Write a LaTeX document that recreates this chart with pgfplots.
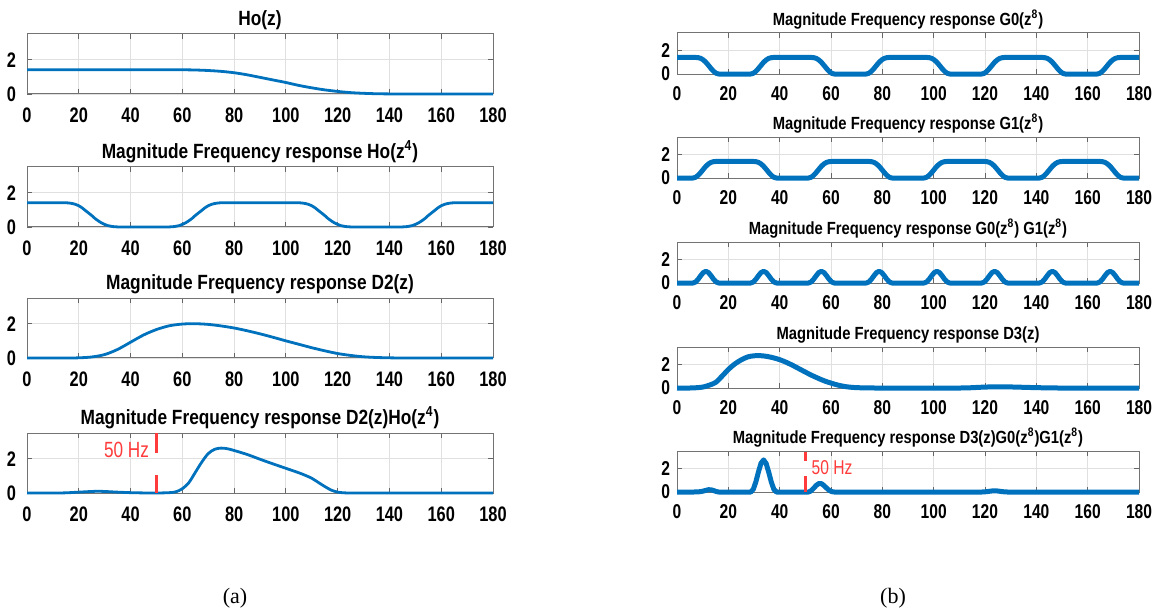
\documentclass[border=0pt]{standalone}
\usepackage{fontspec}
\setmainfont{Liberation Sans}[FakeStretch=0.85]
\newfontfamily\tickfont{Liberation Sans}[FakeStretch=0.78]
\newfontfamily\titlefont{Liberation Sans}[FakeStretch=0.84]
\newfontfamily\capfont{Liberation Serif}
\usepackage{pgfplots}
\pgfplotsset{compat=1.18}

\definecolor{mblue}{rgb}{0,0.447,0.741}
\definecolor{mred}{HTML}{FF3B3B}

\pgfplotsset{
  resp/.style={
    scale only axis, anchor=north west, clip=false,
    xmin=0, xmax=180, ymin=0, ymax=3.5,
    xtick={0,20,...,180}, ytick={0,2},
    grid=major, major grid style={black!12, line width=0.4pt},
    axis line style={black!55, line width=0.5pt},
    tick align=inside, major tick length=2.5pt,
    tick style={black!60, line width=0.4pt},
    /pgf/number format/assume math mode=true,
  },
  leftax/.style={resp, width=233pt, height=30pt,
    ticklabel style={font=\tickfont\bfseries\fontsize{10.5}{11}\selectfont},
    xticklabel style={yshift=-3.5pt}, yticklabel style={xshift=-2pt},
    every axis title/.style={at={(0.5,1)}, anchor=south, inner sep=1.5pt, yshift=0.5pt,
      font=\titlefont\bfseries\fontsize{10.3}{11}\selectfont}},
  rightax/.style={resp, width=231pt, height=20.5pt,
    ticklabel style={font=\tickfont\bfseries\fontsize{10}{11}\selectfont},
    xticklabel style={yshift=-2.5pt},
    every axis title/.style={at={(0.5,1)}, anchor=south, inner sep=1.5pt, yshift=0pt,
      font=\titlefont\bfseries\fontsize{8.8}{9.5}\selectfont}},
  thinline/.style={mblue, line width=1.4pt, smooth, line join=round},
  thickline/.style={mblue, line width=2.5pt, line join=round},
}

\begin{document}
\begin{tikzpicture}
\path[use as bounding box] (0,0) rectangle (583pt,-305pt);

% ---------------- column (a) ----------------
\begin{axis}[leftax, at={(13.5pt,-17pt)}, title={Ho(z)}]
\addplot[thinline] coordinates {(0,1.414)(50,1.414)(55,1.414)(60,1.413)(65,1.40)(70,1.37)(75,1.32)(80,1.24)(85,1.12)(90,0.97)(95,0.82)(100,0.67)(105,0.50)(110,0.36)(115,0.24)(120,0.15)(125,0.08)(130,0.04)(135,0.015)(140,0.005)(145,0)(150,0)(180,0)};
\end{axis}

\begin{axis}[leftax, at={(13.5pt,-83.5pt)}, title={Magnitude Frequency response Ho(z\textsuperscript{4})}]
\addplot[mblue, line width=1.4pt, line join=round] coordinates {
(0,1.414)(15,1.414)(16.25,1.40)(17.5,1.37)(18.75,1.32)(20,1.24)(21.25,1.12)(22.5,0.97)(23.75,0.82)(25,0.67)(26.25,0.50)(27.5,0.36)(28.75,0.24)(30,0.15)(31.25,0.08)(32.5,0.04)(33.75,0.015)(35,0.005)(36.25,0)
(53.75,0)(55,0.005)(56.25,0.015)(57.5,0.04)(58.75,0.08)(60,0.15)(61.25,0.24)(62.5,0.36)(63.75,0.50)(65,0.67)(66.25,0.82)(67.5,0.97)(68.75,1.12)(70,1.24)(71.25,1.32)(72.5,1.37)(73.75,1.40)(75,1.414)
(105,1.414)(106.25,1.40)(107.5,1.37)(108.75,1.32)(110,1.24)(111.25,1.12)(112.5,0.97)(113.75,0.82)(115,0.67)(116.25,0.50)(117.5,0.36)(118.75,0.24)(120,0.15)(121.25,0.08)(122.5,0.04)(123.75,0.015)(125,0.005)(126.25,0)
(143.75,0)(145,0.005)(146.25,0.015)(147.5,0.04)(148.75,0.08)(150,0.15)(151.25,0.24)(152.5,0.36)(153.75,0.50)(155,0.67)(156.25,0.82)(157.5,0.97)(158.75,1.12)(160,1.24)(161.25,1.32)(162.5,1.37)(163.75,1.40)(165,1.414)(180,1.414)};
\end{axis}

\begin{axis}[leftax, at={(13.5pt,-149pt)}, title={Magnitude Frequency response D2(z)}]
\addplot[thinline] coordinates {(0,0)(10,0)(15,0)(20,0.01)(25,0.06)(30,0.2)(35,0.5)(40,0.92)(45,1.34)(50,1.66)(55,1.88)(60,1.98)(65,2.0)(70,1.96)(75,1.87)(80,1.75)(85,1.59)(90,1.41)(95,1.21)(100,1.0)(105,0.8)(110,0.6)(115,0.42)(120,0.26)(125,0.15)(130,0.07)(135,0.03)(140,0.01)(145,0)(150,0)(180,0)};
\end{axis}

\begin{axis}[leftax, at={(13.5pt,-216.5pt)}, title={Magnitude Frequency response D2(z)Ho(z\textsuperscript{4})}]
\addplot[thinline] coordinates {(0,0)(10,0)(15,0.01)(20,0.05)(25,0.09)(27.5,0.1)(30,0.09)(35,0.05)(40,0.02)(45,0.005)(50,0)(55,0.02)(57.5,0.07)(60,0.25)(62.5,0.6)(65,1.2)(67.5,1.8)(70,2.3)(72.5,2.55)(75,2.62)(77.5,2.58)(80,2.48)(85,2.25)(90,1.97)(95,1.7)(100,1.44)(105,1.18)(107.5,1.03)(110,0.86)(112.5,0.62)(115,0.38)(117.5,0.17)(120,0.05)(122.5,0.01)(125,0)(130,0)(180,0)};
\addplot[mred, line width=1.7pt] coordinates {(50,0)(50,1.05)};
\addplot[mred, line width=1.7pt] coordinates {(50,2.32)(50,3.5)};
\node[mred, anchor=east, inner sep=1pt, font=\tickfont\fontsize{11}{12}\selectfont] at (axis cs:48,2.5) {50 Hz};
\end{axis}

% ---------------- column (b) ----------------
\begin{axis}[rightax, at={(338.5pt,-16.5pt)}, title={Magnitude Frequency response G0(z\textsuperscript{8})}]
\addplot[thickline] coordinates {
(0,1.414)
(6.25,1.414)(7.25,1.413)(8.25,1.395)(9.25,1.334)(10.25,1.203)(11.25,1.0)(12.25,0.743)(13.25,0.471)(14.25,0.231)(15.25,0.062)(16.25,0)
(28.75,0)(29.75,0.062)(30.75,0.231)(31.75,0.471)(32.75,0.743)(33.75,1.0)(34.75,1.203)(35.75,1.334)(36.75,1.395)(37.75,1.413)(38.75,1.414)
(51.25,1.414)(52.25,1.413)(53.25,1.395)(54.25,1.334)(55.25,1.203)(56.25,1.0)(57.25,0.743)(58.25,0.471)(59.25,0.231)(60.25,0.062)(61.25,0)
(73.75,0)(74.75,0.062)(75.75,0.231)(76.75,0.471)(77.75,0.743)(78.75,1.0)(79.75,1.203)(80.75,1.334)(81.75,1.395)(82.75,1.413)(83.75,1.414)
(96.25,1.414)(97.25,1.413)(98.25,1.395)(99.25,1.334)(100.25,1.203)(101.25,1.0)(102.25,0.743)(103.25,0.471)(104.25,0.231)(105.25,0.062)(106.25,0)
(118.75,0)(119.75,0.062)(120.75,0.231)(121.75,0.471)(122.75,0.743)(123.75,1.0)(124.75,1.203)(125.75,1.334)(126.75,1.395)(127.75,1.413)(128.75,1.414)
(141.25,1.414)(142.25,1.413)(143.25,1.395)(144.25,1.334)(145.25,1.203)(146.25,1.0)(147.25,0.743)(148.25,0.471)(149.25,0.231)(150.25,0.062)(151.25,0)
(163.75,0)(164.75,0.062)(165.75,0.231)(166.75,0.471)(167.75,0.743)(168.75,1.0)(169.75,1.203)(170.75,1.334)(171.75,1.395)(172.75,1.413)(173.75,1.414)
(180,1.414)};
\end{axis}

\begin{axis}[rightax, at={(338.5pt,-68.5pt)}, title={Magnitude Frequency response G1(z\textsuperscript{8})}]
\addplot[thickline] coordinates {
(0,0)
(6.25,0)(7.25,0.062)(8.25,0.231)(9.25,0.471)(10.25,0.743)(11.25,1.0)(12.25,1.203)(13.25,1.334)(14.25,1.395)(15.25,1.413)(16.25,1.414)
(28.75,1.414)(29.75,1.413)(30.75,1.395)(31.75,1.334)(32.75,1.203)(33.75,1.0)(34.75,0.743)(35.75,0.471)(36.75,0.231)(37.75,0.062)(38.75,0)
(51.25,0)(52.25,0.062)(53.25,0.231)(54.25,0.471)(55.25,0.743)(56.25,1.0)(57.25,1.203)(58.25,1.334)(59.25,1.395)(60.25,1.413)(61.25,1.414)
(73.75,1.414)(74.75,1.413)(75.75,1.395)(76.75,1.334)(77.75,1.203)(78.75,1.0)(79.75,0.743)(80.75,0.471)(81.75,0.231)(82.75,0.062)(83.75,0)
(96.25,0)(97.25,0.062)(98.25,0.231)(99.25,0.471)(100.25,0.743)(101.25,1.0)(102.25,1.203)(103.25,1.334)(104.25,1.395)(105.25,1.413)(106.25,1.414)
(118.75,1.414)(119.75,1.413)(120.75,1.395)(121.75,1.334)(122.75,1.203)(123.75,1.0)(124.75,0.743)(125.75,0.471)(126.75,0.231)(127.75,0.062)(128.75,0)
(141.25,0)(142.25,0.062)(143.25,0.231)(144.25,0.471)(145.25,0.743)(146.25,1.0)(147.25,1.203)(148.25,1.334)(149.25,1.395)(150.25,1.413)(151.25,1.414)
(163.75,1.414)(164.75,1.413)(165.75,1.395)(166.75,1.334)(167.75,1.203)(168.75,1.0)(169.75,0.743)(170.75,0.471)(171.75,0.231)(172.75,0.062)(173.75,0)
(180,0)};
\end{axis}

\begin{axis}[rightax, at={(338.5pt,-121pt)}, title={Magnitude Frequency response G0(z\textsuperscript{8}) G1(z\textsuperscript{8})}]
\addplot[thickline] coordinates {
(0,0)
(6.25,0)(7.25,0.088)(8.25,0.322)(9.25,0.628)(10.25,0.894)(11.25,1.0)(12.25,0.894)(13.25,0.628)(14.25,0.322)(15.25,0.088)(16.25,0)
(28.75,0)(29.75,0.088)(30.75,0.322)(31.75,0.628)(32.75,0.894)(33.75,1.0)(34.75,0.894)(35.75,0.628)(36.75,0.322)(37.75,0.088)(38.75,0)
(51.25,0)(52.25,0.088)(53.25,0.322)(54.25,0.628)(55.25,0.894)(56.25,1.0)(57.25,0.894)(58.25,0.628)(59.25,0.322)(60.25,0.088)(61.25,0)
(73.75,0)(74.75,0.088)(75.75,0.322)(76.75,0.628)(77.75,0.894)(78.75,1.0)(79.75,0.894)(80.75,0.628)(81.75,0.322)(82.75,0.088)(83.75,0)
(96.25,0)(97.25,0.088)(98.25,0.322)(99.25,0.628)(100.25,0.894)(101.25,1.0)(102.25,0.894)(103.25,0.628)(104.25,0.322)(105.25,0.088)(106.25,0)
(118.75,0)(119.75,0.088)(120.75,0.322)(121.75,0.628)(122.75,0.894)(123.75,1.0)(124.75,0.894)(125.75,0.628)(126.75,0.322)(127.75,0.088)(128.75,0)
(141.25,0)(142.25,0.088)(143.25,0.322)(144.25,0.628)(145.25,0.894)(146.25,1.0)(147.25,0.894)(148.25,0.628)(149.25,0.322)(150.25,0.088)(151.25,0)
(163.75,0)(164.75,0.088)(165.75,0.322)(166.75,0.628)(167.75,0.894)(168.75,1.0)(169.75,0.894)(170.75,0.628)(171.75,0.322)(172.75,0.088)(173.75,0)
(180,0)};
\end{axis}

\begin{axis}[rightax, at={(338.5pt,-173.5pt)}, title={Magnitude Frequency response D3(z)}]
\addplot[thickline, smooth] coordinates {(0,0)(5,0)(8,0.03)(10,0.08)(12,0.2)(15,0.47)(17.5,1.0)(20,1.58)(22.5,2.05)(25,2.4)(27.5,2.65)(30,2.75)(32.5,2.76)(35,2.7)(37.5,2.58)(40,2.42)(42.5,2.2)(45,1.94)(47.5,1.65)(50,1.36)(52.5,1.08)(55,0.83)(57.5,0.6)(60,0.42)(62.5,0.26)(65,0.14)(67.5,0.07)(70,0.03)(75,0.005)(80,0)(110,0)(115,0.03)(120,0.08)(125,0.1)(130,0.09)(135,0.06)(140,0.03)(145,0.01)(150,0)(180,0)};
\end{axis}

\begin{axis}[rightax, at={(338.5pt,-225.5pt)}, title={Magnitude Frequency response D3(z)G0(z\textsuperscript{8})G1(z\textsuperscript{8})}]
\addplot[thickline] coordinates {
(0,0)(6.25,0)(7.25,0.002)(8.25,0.011)(9.25,0.038)(10.25,0.08)(11.25,0.14)(12.25,0.197)(13.25,0.188)(14.25,0.126)(15.25,0.044)(16.25,0)
(28.75,0)(29.75,0.241)(30.75,0.886)(31.75,1.733)(32.75,2.467)(33.75,2.74)(34.75,2.42)(35.75,1.677)(36.75,0.844)(37.75,0.225)(38.75,0)
(51.25,0)(52.25,0.098)(53.25,0.322)(54.25,0.565)(55.25,0.724)(56.25,0.72)(57.25,0.554)(58.25,0.339)(59.25,0.151)(60.25,0.035)(61.25,0)
(118.75,0)(119.75,0.009)(120.75,0.032)(121.75,0.063)(122.75,0.089)(123.75,0.1)(124.75,0.089)(125.75,0.063)(126.75,0.032)(127.75,0.009)(128.75,0)
(180,0)};
\addplot[mred, line width=1.4pt] coordinates {(50,0)(50,1.34)};
\addplot[mred, line width=1.4pt] coordinates {(50,2.66)(50,3.45)};
\node[mred, anchor=west, inner sep=1pt, font=\tickfont\fontsize{10}{11}\selectfont] at (axis cs:51.5,2.1) {50 Hz};
\end{axis}

% sub-figure captions
\node[font=\capfont\fontsize{11}{12}\selectfont] at (117.5pt,-299pt) {(a)};
\node[font=\capfont\fontsize{11}{12}\selectfont] at (446.5pt,-299pt) {(b)};
\end{tikzpicture}
\end{document}
